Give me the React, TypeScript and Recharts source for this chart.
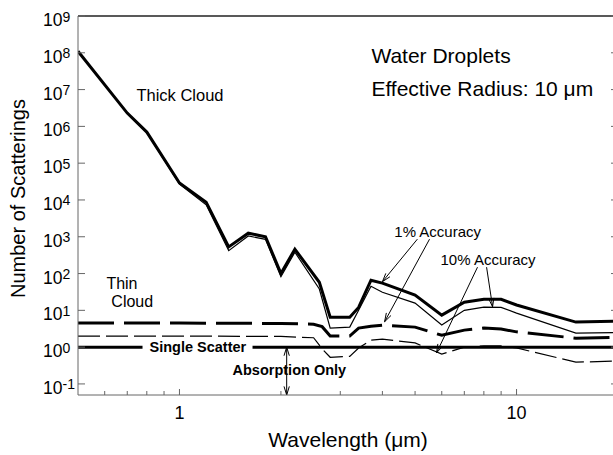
import React from 'react';
import { LineChart, Line, XAxis, YAxis, ReferenceLine, ReferenceDot } from 'recharts';

const FONT = '"Liberation Sans", Arial, Helvetica, sans-serif';

// ---- Thick cloud (number of scatterings vs wavelength) ----
const thickWavelength = [0.5, 0.7, 0.8, 1.0, 1.2, 1.4, 1.6, 1.8, 2.0, 2.2, 2.6, 2.8, 3.2, 3.4, 3.7, 4.0, 5.0, 6.0, 7.0, 8.0, 9.0, 10, 15, 20];
const thickCloud1pct = [1.1e8, 2.3e6, 7e5, 2.9e4, 8.7e3, 530, 1250, 1000, 100, 460, 58, 6.5, 6.5, 12, 66, 55, 26, 7.4, 16.7, 20, 20, 14, 4.8, 5.1];
const thickCloud10pct = [1.1e8, 2.3e6, 6.8e5, 2.7e4, 7.4e3, 420, 1050, 850, 82, 380, 38, 3.3, 3.5, 10, 45, 31, 15.7, 4.0, 10, 12.2, 12, 8.4, 2.4, 2.5];

// ---- Thin cloud ----
const thinWavelength = [0.5, 1.0, 2.0, 2.5, 2.65, 2.8, 3.2, 3.4, 3.7, 4.0, 5.0, 6.0, 7.0, 8.0, 9.0, 10, 15, 20];
const thinCloud1pct = [4.5, 4.5, 4.4, 4.2, 3.6, 2.0, 2.0, 3.3, 3.7, 3.95, 3.5, 2.1, 2.9, 3.3, 3.1, 2.6, 1.75, 1.85];
const thinCloud10pct = [2.0, 2.0, 1.95, 1.8, 0.9, 0.53, 0.56, 0.95, 1.55, 1.65, 1.3, 0.65, 1.0, 1.08, 1.08, 0.95, 0.39, 0.42];

// ---- Single scatter ----
const singleWavelength = [0.5, 20];
const singleScatter = [1, 1];

// ---- Axis ticks ----
const xTicks = [0.6, 0.7, 0.8, 0.9, 1, 2, 3, 4, 5, 6, 7, 8, 9, 10, 20];
const xTickLabels: Record<number, string> = { 1: '1', 10: '10' };
const yTicks = [0.1, 1, 10, 100, 1e3, 1e4, 1e5, 1e6, 1e7, 1e8, 1e9];

const toSeries = (xs: number[], ys: number[]) => xs.map((x, i) => ({ x, y: ys[i] }));

const thick1Data = toSeries(thickWavelength, thickCloud1pct);
const thick10Data = toSeries(thickWavelength, thickCloud10pct);
const thin1Data = toSeries(thinWavelength, thinCloud1pct);
const thin10Data = toSeries(thinWavelength, thinCloud10pct);
const singleData = toSeries(singleWavelength, singleScatter);

const AXIS = '#666';

function XTick(props: any) {
  const { x, y, payload } = props;
  const v = payload.value;
  const label = xTickLabels[v];
  const major = label !== undefined;
  return (
    <g>
      <line x1={x} y1={y} x2={x} y2={y - (major ? 6 : 4)} stroke={AXIS} strokeWidth={1} />
      {major && (
        <text x={x} y={y + 24} textAnchor="middle" fontSize={18} fontFamily={FONT} fill="#000">
          {label}
        </text>
      )}
    </g>
  );
}

function YTickLeft(props: any) {
  const { x, y, payload } = props;
  const exp = Math.round(Math.log10(payload.value));
  return (
    <g>
      <line x1={x} y1={y} x2={x + 7} y2={y} stroke={AXIS} strokeWidth={1} />
      <text x={x - 35} y={y + 10} textAnchor="start" fontSize={17.5} fontFamily={FONT} fill="#000">
        10
        <tspan fontSize={14} dy={-4.5}>
          {String(exp)}
        </tspan>
      </text>
    </g>
  );
}

function YTickRight(props: any) {
  const { x, y } = props;
  return <line x1={x} y1={y} x2={x - 7} y2={y} stroke={AXIS} strokeWidth={1} />;
}

function XAxisTitle(props: any) {
  const vb = props.viewBox || {};
  if (typeof vb.x !== 'number') return null;
  return (
    <text x={vb.x + vb.width / 2} y={vb.y + 52} textAnchor="middle" fontSize={21} fontFamily={FONT} fill="#000">
      Wavelength (&#956;m)
    </text>
  );
}

function YAxisTitle(props: any) {
  const vb = props.viewBox || {};
  if (typeof vb.y !== 'number') return null;
  const cx = vb.x + 25;
  const cy = vb.y + vb.height / 2 - 7;
  return (
    <text
      x={cx}
      y={cy}
      transform={`rotate(-90 ${cx} ${cy})`}
      textAnchor="middle"
      fontSize={20}
      fontFamily={FONT}
      fill="#000"
    >
      Number of Scatterings
    </text>
  );
}

function headPoints(xa: number, ya: number, xb: number, yb: number) {
  const ang = Math.atan2(yb - ya, xb - xa);
  const L = 9;
  const w = 0.3;
  const p1 = `${xb - L * Math.cos(ang - w)},${yb - L * Math.sin(ang - w)}`;
  const p2 = `${xb - L * Math.cos(ang + w)},${yb - L * Math.sin(ang + w)}`;
  return `${p1} ${xb},${yb} ${p2}`;
}

function Arrow(props: any) {
  const { x1, y1, x2, y2, both } = props;
  if ([x1, y1, x2, y2].some((v) => typeof v !== 'number' || isNaN(v))) return null;
  return (
    <g>
      <line x1={x1} y1={y1} x2={x2} y2={y2} stroke="#000" strokeWidth={1} />
      <polyline points={headPoints(x1, y1, x2, y2)} fill="none" stroke="#000" strokeWidth={1} />
      {both && <polyline points={headPoints(x2, y2, x1, y1)} fill="none" stroke="#000" strokeWidth={1} />}
    </g>
  );
}

const textShape =
  (text: string, opts: { size: number; bold?: boolean; bg?: number }) =>
  (p: any) => {
    if (typeof p.cx !== 'number') return null;
    return (
      <g>
        {opts.bg ? <rect x={p.cx - 7} y={p.cy - 8} width={opts.bg} height={16} fill="#fff" /> : null}
        <text
          x={p.cx}
          y={p.cy}
          dy="0.35em"
          textAnchor="start"
          fontSize={opts.size}
          fontWeight={opts.bold ? 'bold' : 'normal'}
          fontFamily={FONT}
          fill="#000"
        >
          {text}
        </text>
      </g>
    );
  };

const arrowShape = (p: any) => <Arrow {...p} />;
const doubleArrowShape = (p: any) => <Arrow {...p} both />;

export default function App() {
  return (
    <div style={{ position: 'absolute', left: 0, top: 0, width: 613, height: 455, overflow: 'hidden', background: '#fff' }}>
      <LineChart width={626} height={455} margin={{ top: 16, right: 0, bottom: 0, left: 0 }}>
        <XAxis
          dataKey="x"
          type="number"
          scale="log"
          domain={[0.5, 20]}
          allowDataOverflow
          ticks={xTicks}
          interval={0}
          tick={<XTick />}
          tickLine={false}
          tickSize={0}
          tickMargin={0}
          axisLine={{ stroke: AXIS, strokeWidth: 1 }}
          height={60}
          label={(p: any) => <XAxisTitle {...p} />}
        />
        <YAxis
          type="number"
          scale="log"
          domain={[0.05, 1e9]}
          allowDataOverflow
          ticks={yTicks}
          interval={0}
          tick={<YTickLeft />}
          tickLine={false}
          tickSize={0}
          tickMargin={0}
          axisLine={{ stroke: AXIS, strokeWidth: 1 }}
          width={78}
          label={(p: any) => <YAxisTitle {...p} />}
        />
        <YAxis
          yAxisId="right"
          orientation="right"
          type="number"
          scale="log"
          domain={[0.05, 1e9]}
          allowDataOverflow
          ticks={yTicks}
          interval={0}
          tick={<YTickRight />}
          tickLine={false}
          tickSize={0}
          tickMargin={0}
          axisLine={{ stroke: AXIS, strokeWidth: 1 }}
          width={8}
        />
        <ReferenceLine y={1e9} stroke="#222" strokeWidth={1.3} ifOverflow="visible" />

        <Line data={thin10Data} dataKey="y" type="linear" stroke="#000" strokeWidth={1.2} strokeDasharray="22 6" dot={false} isAnimationActive={false} />
        <Line data={thin1Data} dataKey="y" type="linear" stroke="#000" strokeWidth={3} strokeDasharray="36 10" dot={false} isAnimationActive={false} />
        <Line data={singleData} dataKey="y" type="linear" stroke="#000" strokeWidth={3} dot={false} isAnimationActive={false} />
        <Line data={thick10Data} dataKey="y" type="linear" stroke="#000" strokeWidth={1.2} dot={false} isAnimationActive={false} />
        <Line data={thick1Data} dataKey="y" type="linear" stroke="#000" strokeWidth={3} dot={false} isAnimationActive={false} />

        {/* arrows */}
        <ReferenceLine segment={[{ x: 5.08, y: 861 }, { x: 4.0, y: 60 }]} shape={arrowShape} ifOverflow="visible" />
        <ReferenceLine segment={[{ x: 5.52, y: 861 }, { x: 4.06, y: 4.9 }]} shape={arrowShape} ifOverflow="visible" />
        <ReferenceLine segment={[{ x: 7.66, y: 149 }, { x: 5.79, y: 0.7 }]} shape={arrowShape} ifOverflow="visible" />
        <ReferenceLine segment={[{ x: 8.15, y: 149 }, { x: 8.49, y: 12.5 }]} shape={arrowShape} ifOverflow="visible" />
        <ReferenceLine segment={[{ x: 2.08, y: 1 }, { x: 2.08, y: 0.05 }]} shape={doubleArrowShape} ifOverflow="visible" />

        {/* text annotations */}
        <ReferenceDot x={0.745} y={7.0e6} r={0} shape={textShape('Thick Cloud', { size: 16.5 })} ifOverflow="visible" />
        <ReferenceDot x={0.607} y={55} r={0} shape={textShape('Thin', { size: 16 })} ifOverflow="visible" />
        <ReferenceDot x={0.628} y={17.8} r={0} shape={textShape('Cloud', { size: 16 })} ifOverflow="visible" />
        <ReferenceDot x={3.71} y={8.6e7} r={0} shape={textShape('Water Droplets', { size: 21 })} ifOverflow="visible" />
        <ReferenceDot x={3.71} y={1.03e7} r={0} shape={textShape('Effective Radius: 10 \u03BCm', { size: 21 })} ifOverflow="visible" />
        <ReferenceDot x={4.34} y={1334} r={0} shape={textShape('1% Accuracy', { size: 15 })} ifOverflow="visible" />
        <ReferenceDot x={5.95} y={231} r={0} shape={textShape('10% Accuracy', { size: 15 })} ifOverflow="visible" />
        <ReferenceDot x={0.815} y={1} r={0} shape={textShape('Single Scatter', { size: 14.5, bold: true, bg: 110 })} ifOverflow="visible" />
        <ReferenceDot x={1.437} y={0.237} r={0} shape={textShape('Absorption Only', { size: 14.5, bold: true })} ifOverflow="visible" />
      </LineChart>
    </div>
  );
}
